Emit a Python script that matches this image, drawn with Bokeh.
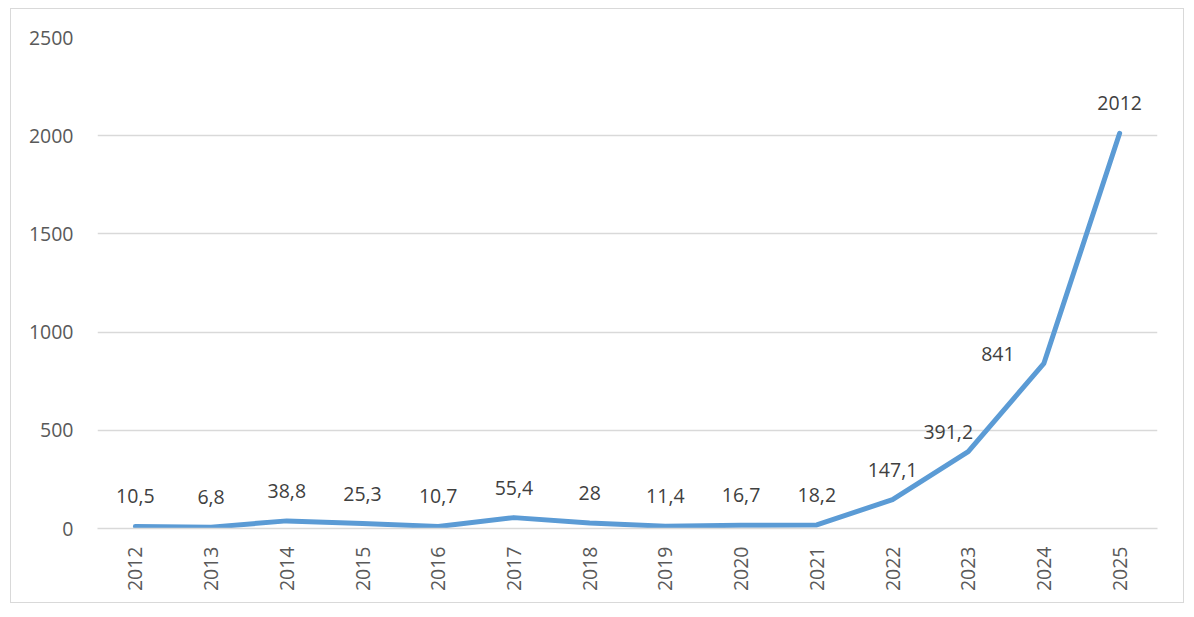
import math
from bokeh.plotting import figure
from bokeh.models import ColumnDataSource, FixedTicker
from bokeh.core.properties import value
from bokeh.embed import file_html
from bokeh.resources import INLINE

years = ["2012", "2013", "2014", "2015", "2016", "2017", "2018",
         "2019", "2020", "2021", "2022", "2023", "2024", "2025"]
values = [10.5, 6.8, 38.8, 25.3, 10.7, 55.4, 28, 11.4, 16.7, 18.2,
          147.1, 391.2, 841, 2012]
y_ticks = [0, 500, 1000, 1500, 2000, 2500]


def fmt(v):
    return ("%g" % v).replace(".", ",")


labels = [fmt(v) for v in values]
# label placement (screen px), Excel-like
x_off = [0] * len(years)
y_off = [-30] * len(years)
x_off[11], y_off[11] = -20, -20
x_off[12], y_off[12] = -46, -9

src = ColumnDataSource(dict(x=years, y=values, lab=labels, xo=x_off, yo=y_off))

FONT = "Open Sans"
FS = "19.5px"

p = figure(x_range=years, y_range=(0, 2500), width=1174, height=595,
           output_backend="svg", toolbar_location=None,
           min_border_left=86, min_border_right=28, min_border_top=28,
           min_border_bottom=76)
p.styles = {"border": "1px solid #d9d9d9", "margin-left": "10px",
            "margin-top": "8px"}
p.outline_line_color = None
p.background_fill_color = "white"
p.border_fill_color = "white"

p.line("x", "y", source=src, line_color="#5b9bd5", line_width=5,
       line_join="round", line_cap="round")
p.text("x", "y", text="lab", source=src, x_offset="xo", y_offset="yo",
       text_align="center", text_baseline="middle",
       text_font=value(FONT), text_font_size=FS, text_color="#404040")

p.yaxis.ticker = FixedTicker(ticks=y_ticks)
p.yaxis.axis_line_color = None
p.yaxis.major_tick_line_color = None
p.yaxis.minor_tick_line_color = None
p.yaxis.major_label_standoff = 18
p.yaxis.major_label_text_font = FONT
p.yaxis.major_label_text_font_size = FS
p.yaxis.major_label_text_color = "#595959"

p.xaxis.axis_line_color = "#d9d9d9"
p.xaxis.axis_line_width = 1.5
p.xaxis.major_tick_line_color = None
p.xaxis.minor_tick_line_color = None
p.xaxis.major_label_orientation = math.pi / 2
p.xaxis.major_label_standoff = 12
p.xaxis.major_label_text_font = FONT
p.xaxis.major_label_text_font_size = FS
p.xaxis.major_label_text_color = "#595959"

p.xgrid.grid_line_color = None
p.ygrid.grid_line_color = "#d9d9d9"
p.ygrid.grid_line_width = 1.5
p.x_range.range_padding = 0

open("out.html", "w").write(file_html(p, INLINE))
